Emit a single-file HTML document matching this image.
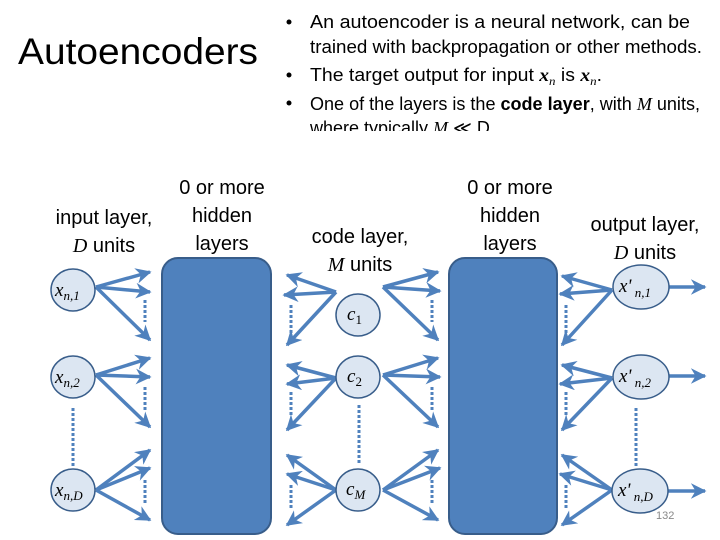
<!DOCTYPE html>
<html><head><meta charset="utf-8"><style>
html,body{margin:0;padding:0;background:#fff;width:720px;height:540px;overflow:hidden}
svg{display:block}
text{font-family:"Liberation Sans",sans-serif;fill:#000}
.m{font-family:"Liberation Serif",serif;font-style:italic}
</style></head><body>
<svg width="720" height="540" viewBox="0 0 720 540" xmlns="http://www.w3.org/2000/svg">
<defs>
<marker id="a" viewBox="0 0 10 10" refX="9" refY="5" markerWidth="4.5" markerHeight="4.5" orient="auto" markerUnits="strokeWidth">
<path d="M0,0 L10,5 L0,10 L3,5 z" fill="#4F81BD"/>
</marker>
</defs>
<text x="18" y="64" font-size="37" textLength="240" lengthAdjust="spacingAndGlyphs">Autoencoders</text>
<g font-size="18">
<circle cx="289" cy="22" r="2.5" fill="#000"/>
<text x="310" y="28" textLength="380" lengthAdjust="spacingAndGlyphs">An autoencoder is a neural network, can be</text>
<text x="310" y="53" textLength="392" lengthAdjust="spacingAndGlyphs">trained with backpropagation or other methods.</text>
<circle cx="289" cy="75" r="2.5" fill="#000"/>
<text x="310" y="81" textLength="292" lengthAdjust="spacingAndGlyphs">The target output for input <tspan class="m" font-weight="bold">x</tspan><tspan class="m" font-size="12" dy="4">n</tspan><tspan dy="-4"> is </tspan><tspan class="m" font-weight="bold">x</tspan><tspan class="m" font-size="12" dy="4">n</tspan><tspan dy="-4">.</tspan></text>
<circle cx="289" cy="103" r="2.5" fill="#000"/>
<text x="310" y="110" textLength="390" lengthAdjust="spacingAndGlyphs">One of the layers is the <tspan font-weight="bold">code layer</tspan>, with <tspan class="m">M</tspan> units,</text>
</g>
<svg x="300" y="115" width="420" height="16" viewBox="300 115 420 16"><text x="310" y="134" font-size="18">where typically <tspan class="m">M</tspan> ≪ D</text></svg>

<g font-size="20" text-anchor="middle">
<text x="104" y="224">input layer,</text>
<text x="104" y="252"><tspan class="m">D</tspan> units</text>
<text x="222" y="194">0 or more</text>
<text x="222" y="222">hidden</text>
<text x="222" y="250">layers</text>
<text x="360" y="243">code layer,</text>
<text x="360" y="271"><tspan class="m">M</tspan> units</text>
<text x="510" y="194">0 or more</text>
<text x="510" y="222">hidden</text>
<text x="510" y="250">layers</text>
<text x="645" y="231">output layer,</text>
<text x="645" y="259"><tspan class="m">D</tspan> units</text>
</g>

<rect x="162" y="258" width="109" height="276" rx="16" fill="#4F81BD" stroke="#385D8A" stroke-width="2"/>
<rect x="449" y="258" width="108" height="276" rx="16" fill="#4F81BD" stroke="#385D8A" stroke-width="2"/>

<g stroke="#4F81BD" stroke-width="3.5" fill="none" marker-end="url(#a)">
<line x1="96" y1="287" x2="150" y2="272"/><line x1="96" y1="287" x2="150" y2="292"/><line x1="96" y1="287" x2="150" y2="340"/>
<line x1="96" y1="375" x2="150" y2="358"/><line x1="96" y1="375" x2="150" y2="377"/><line x1="96" y1="375" x2="150" y2="427"/>
<line x1="96" y1="490" x2="150" y2="450"/><line x1="96" y1="490" x2="150" y2="468"/><line x1="96" y1="490" x2="150" y2="520"/>
<line x1="336" y1="292" x2="287" y2="275"/><line x1="336" y1="292" x2="284" y2="295"/><line x1="336" y1="292" x2="287" y2="345"/>
<line x1="336" y1="378" x2="287" y2="365"/><line x1="336" y1="378" x2="287" y2="384"/><line x1="336" y1="378" x2="287" y2="430"/>
<line x1="336" y1="490" x2="287" y2="455"/><line x1="336" y1="490" x2="287" y2="474"/><line x1="336" y1="490" x2="287" y2="525"/>
<line x1="383" y1="287" x2="438" y2="272"/><line x1="383" y1="287" x2="440" y2="291"/><line x1="383" y1="287" x2="438" y2="340"/>
<line x1="383" y1="375" x2="438" y2="358"/><line x1="383" y1="375" x2="440" y2="377"/><line x1="383" y1="375" x2="438" y2="427"/>
<line x1="383" y1="490" x2="438" y2="450"/><line x1="383" y1="490" x2="440" y2="468"/><line x1="383" y1="490" x2="438" y2="520"/>
<line x1="612" y1="290" x2="562" y2="276"/><line x1="612" y1="290" x2="560" y2="294"/><line x1="612" y1="290" x2="562" y2="345"/>
<line x1="612" y1="378" x2="562" y2="365"/><line x1="612" y1="378" x2="560" y2="384"/><line x1="612" y1="378" x2="562" y2="430"/>
<line x1="612" y1="490" x2="562" y2="455"/><line x1="612" y1="490" x2="560" y2="474"/><line x1="612" y1="490" x2="562" y2="525"/>
<line x1="669" y1="287" x2="705" y2="287"/><line x1="669" y1="376" x2="705" y2="376"/><line x1="667" y1="491" x2="705" y2="491"/>
</g>

<g stroke="#4F81BD" stroke-width="3" stroke-dasharray="3,2">
<line x1="145" y1="300" x2="145" y2="322"/><line x1="145" y1="387" x2="145" y2="410"/><line x1="145" y1="480" x2="145" y2="505"/>
<line x1="291" y1="305" x2="291" y2="335"/><line x1="291" y1="392" x2="291" y2="415"/><line x1="291" y1="485" x2="291" y2="508"/>
<line x1="432" y1="300" x2="432" y2="322"/><line x1="432" y1="387" x2="432" y2="410"/><line x1="432" y1="480" x2="432" y2="505"/>
<line x1="566" y1="305" x2="566" y2="335"/><line x1="566" y1="392" x2="566" y2="415"/><line x1="566" y1="485" x2="566" y2="508"/>
<line x1="73" y1="408" x2="73" y2="466"/><line x1="359" y1="405" x2="359" y2="465"/><line x1="636" y1="408" x2="636" y2="466"/>
</g>

<g fill="#DCE6F2" stroke="#385D8A" stroke-width="1.5">
<ellipse cx="73" cy="290" rx="22" ry="21"/><ellipse cx="73" cy="377" rx="22" ry="21"/><ellipse cx="73" cy="490" rx="22" ry="21"/>
<ellipse cx="358" cy="315" rx="22" ry="21"/><ellipse cx="358" cy="377" rx="22" ry="21"/><ellipse cx="358" cy="490" rx="22" ry="21"/>
<ellipse cx="641" cy="287" rx="28" ry="22"/><ellipse cx="641" cy="377" rx="28" ry="22"/><ellipse cx="640" cy="491" rx="28" ry="22"/>
</g>
<g font-size="19">
<text class="m" x="55" y="296">x<tspan font-size="13" dy="4">n,1</tspan></text>
<text class="m" x="55" y="383">x<tspan font-size="13" dy="4">n,2</tspan></text>
<text class="m" x="55" y="496">x<tspan font-size="13" dy="4">n,D</tspan></text>
<text class="m" x="347" y="320">c<tspan font-size="13" dy="4" font-style="normal">1</tspan></text>
<text class="m" x="347" y="382">c<tspan font-size="13" dy="4" font-style="normal">2</tspan></text>
<text class="m" x="346" y="495">c<tspan font-size="13" dy="4">M</tspan></text>
<text class="m" x="619" y="292">x'<tspan font-size="13" dy="5"> n,1</tspan></text>
<text class="m" x="619" y="382">x'<tspan font-size="13" dy="5"> n,2</tspan></text>
<text class="m" x="618" y="496">x'<tspan font-size="13" dy="5"> n,D</tspan></text>
</g>
<text x="656" y="519" font-size="11" style="fill:#888">132</text>
</svg>
</body></html>
